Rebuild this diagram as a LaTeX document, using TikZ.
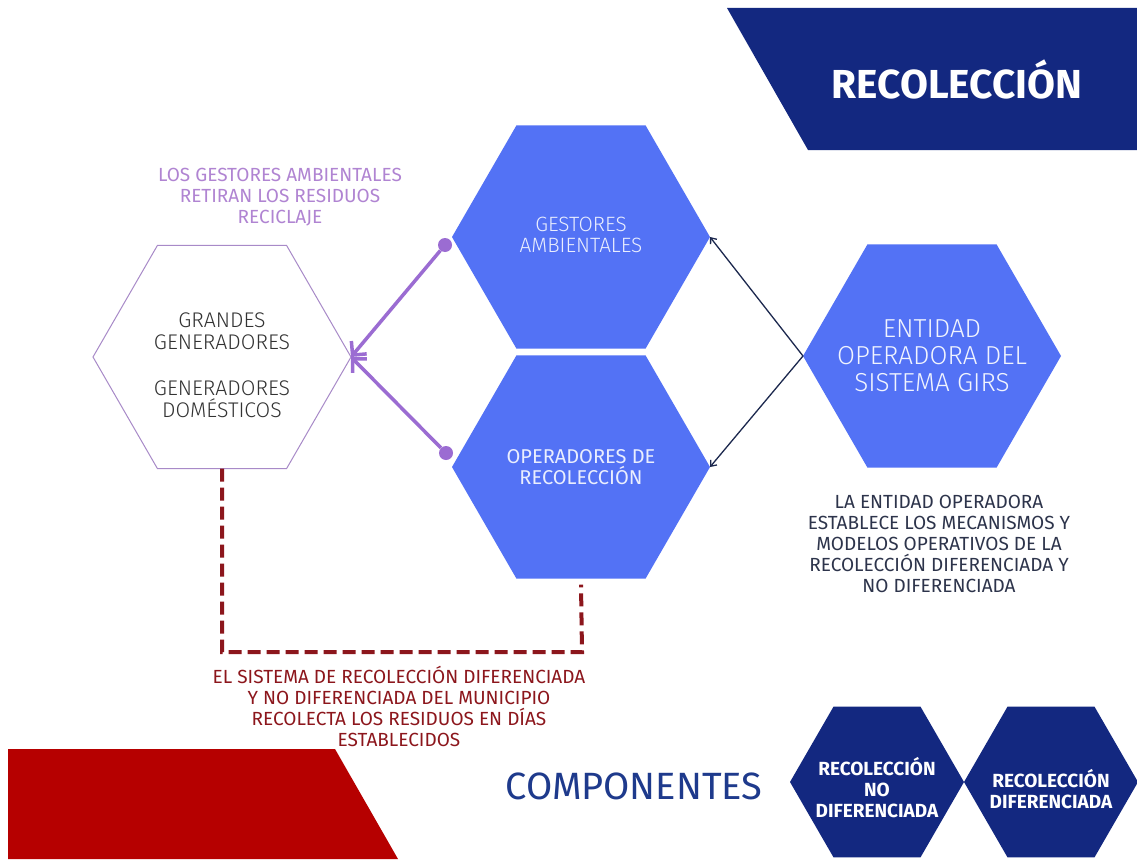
\documentclass[tikz,border=0pt]{standalone}
\usepackage{fontspec}
\setmainfont{Fira Sans}
\newfontfamily\firalight{Fira Sans Light}
\usetikzlibrary{shapes,arrows.meta,positioning}
\definecolor{navy}{RGB}{19,40,128}
\definecolor{hexblue}{RGB}{83,114,245}
\definecolor{lilac}{RGB}{155,108,210}
\definecolor{lilactext}{RGB}{176,132,210}
\definecolor{lilacline}{RGB}{168,138,200}
\definecolor{darkred}{RGB}{140,22,28}
\definecolor{blockred}{RGB}{182,0,0}
\definecolor{inknavy}{RGB}{28,40,78}
\definecolor{notegray}{RGB}{45,52,75}
\definecolor{compblue}{RGB}{30,58,140}
\tikzstyle{hexa} = [regular polygon, regular polygon sides=6, minimum size=258pt, inner sep=0pt, outer sep=0pt]
\tikzstyle{bluehex} = [hexa, fill=hexblue]
\tikzstyle{navyhex} = [hexa, fill=navy, minimum size=174pt]
\tikzstyle{hexlabel} = [align=center, text=white!88!hexblue]
\tikzstyle{navylabel} = [align=center, text=white, font=\fontsize{19}{21}\selectfont\bfseries]
\tikzstyle{note} = [align=center, font=\fontsize{19}{21}\selectfont]
\tikzstyle{pdot} = [circle, fill=lilac, inner sep=0pt, minimum size=14pt]
\tikzstyle{pline} = [draw, lilac, line width=3.5pt, -{Straight Barb[length=10pt,width=20pt]}]
\tikzstyle{nline} = [draw, inknavy, line width=1.3pt, -{Straight Barb[length=5pt,width=8pt]}]
\tikzstyle{rline} = [draw, darkred, line width=4pt, dash pattern=on 13pt off 6pt]

\begin{document}
\begin{tikzpicture}[x=1pt, y=-1pt]
  \fill[white] (0,0) rectangle (1137,859);
  \useasboundingbox (0,0) rectangle (1137,859);
  % banners
  \fill[navy] (727,8) -- (1137,8) -- (1137,150) -- (808,150) -- cycle;
  \fill[blockred] (8,749) -- (335,749) -- (398,859) -- (8,859) -- cycle;
  \node[text=white, font=\fontsize{40.5}{46}\selectfont\bfseries] (title) at (957,79) {RECOLECCIÓN};
  % hexagons
  \node[hexa, draw=lilacline, line width=1pt, fill=white,
    label={[align=center, text=black!80, font=\fontsize{21.2}{22}\firalight, yshift=-8pt]center:{GRANDES\\GENERADORES\\[24pt]GENERADORES\\DOMÉSTICOS}}] (grandes) at (222,357) {};
  \node[bluehex, label={[hexlabel, font=\fontsize{20.7}{21}\firalight, yshift=2pt]center:{GESTORES\\AMBIENTALES}}] (gestores) at (581,237) {};
  \node[bluehex, below of=gestores, node distance=230pt,
    label={[hexlabel, font=\fontsize{20}{21}\selectfont]center:{OPERADORES DE\\RECOLECCIÓN}}] (operadores) {};
  \node[bluehex, label={[hexlabel, text=white!92!hexblue, font=\fontsize{26}{27}\firalight]center:{ENTIDAD\\OPERADORA DEL\\SISTEMA GIRS}}] (entidad) at (932,356) {};
  \node[pdot] (dotg) at (445,245) {};
  \node[pdot] (doto) at (446,453) {};
  \coordinate (dashturn) at (582,652);
  % connectors
  \path[pline] (dotg) -- (grandes.0);
  \path[pline] (doto) -- (grandes.0);
  \path[nline] (entidad.180) -- (gestores.0);
  \path[nline] (entidad.180) -- (operadores.0);
  \path[rline] (grandes.270) |- (dashturn) -- ([yshift=-6pt]operadores.270);
  % notes
  \node[note, text=lilactext] (retiran) at (280,197) {LOS GESTORES AMBIENTALES\\RETIRAN LOS RESIDUOS\\RECICLAJE};
  \node[note, text=notegray] (establece) at (939,544) {LA ENTIDAD OPERADORA\\ESTABLECE LOS MECANISMOS Y\\MODELOS OPERATIVOS DE LA\\RECOLECCIÓN DIFERENCIADA Y\\NO DIFERENCIADA};
  \node[note, text=darkred] (sistema) at (399,706) {EL SISTEMA DE RECOLECCIÓN DIFERENCIADA\\Y NO DIFERENCIADA DEL MUNICIPIO\\RECOLECTA LOS RESIDUOS EN DÍAS\\ESTABLECIDOS};
  % componentes
  \node[text=compblue, font=\fontsize{38}{44}\selectfont] (componentes) at (634,786) {COMPONENTES};
  \node[navyhex, label={[navylabel, yshift=-6pt]center:{RECOLECCIÓN\\NO\\DIFERENCIADA}}] (nodif) at (877,782) {};
  \node[navyhex, right of=nodif, node distance=174pt, label={[navylabel, yshift=-7pt]center:{RECOLECCIÓN\\DIFERENCIADA}}] (dif) {};
\end{tikzpicture}
\end{document}
